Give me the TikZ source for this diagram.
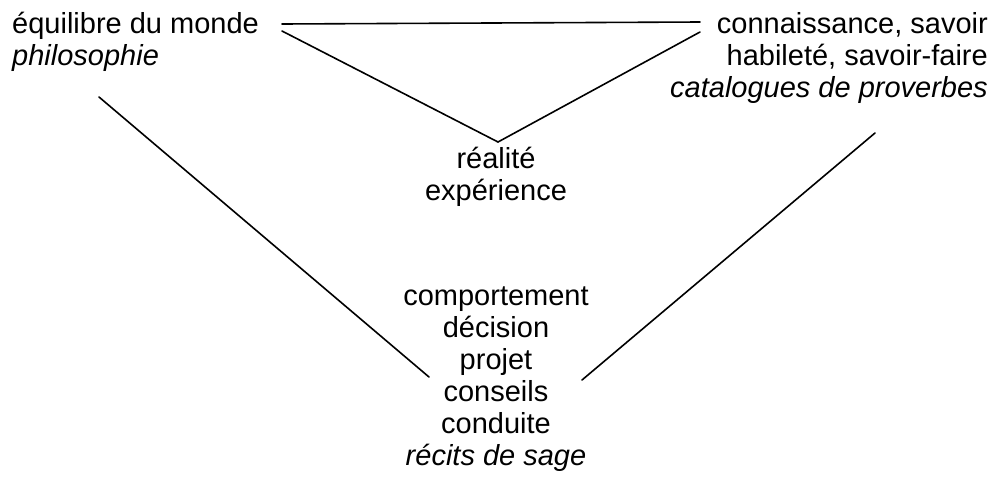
\documentclass[tikz,border=0pt]{standalone}
\usepackage{fontspec}
\setmainfont{Liberation Sans}
\begin{document}
\begin{tikzpicture}[x=1pt,y=-1pt,
  lbl/.style={inner sep=0pt,font=\fontsize{29}{32}\selectfont},
  edge/.style={line width=1.6pt,line cap=round}]
\useasboundingbox (0,0) rectangle (1002,477);
\node[lbl,anchor=base west,align=left] (eq) at (12,65) {équilibre du monde\\\textit{philosophie}};
\node[lbl,anchor=base east,align=right] (co) at (988,97) {connaissance, savoir\\habileté, savoir-faire\\\textit{catalogues de proverbes}};
\node[lbl,anchor=base,align=center] (re) at (496,200) {réalité\\expérience};
\node[lbl,anchor=base,align=center] (cp) at (496,465) {comportement\\décision\\projet\\conseils\\conduite\\\textit{récits de sage}};
\coordinate (a1) at (282,24);
\coordinate (a2) at (700,22);
\coordinate (b1) at (282,31);
\coordinate (apex) at (498,142);
\coordinate (b2) at (700,32);
\coordinate (c1) at (99,97);
\coordinate (c2) at (429,377);
\coordinate (d1) at (875,133);
\coordinate (d2) at (582,380);
\draw[edge] (a1) -- (a2);
\draw[edge] (b1) -- (apex) -- (b2);
\draw[edge] (c1) -- (c2);
\draw[edge] (d1) -- (d2);
\end{tikzpicture}
\end{document}
